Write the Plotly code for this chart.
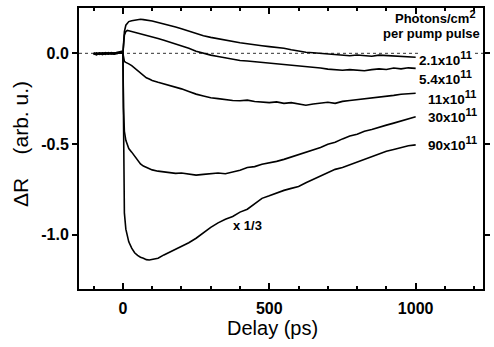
import plotly.graph_objects as go

# shared delay axis (ps)
delay = [-100, -90, -80, -70, -60, -50, -40, -30, -20, -10, -3,
         0, 2, 5, 10, 15, 20, 30, 40, 50, 60, 70, 80, 90, 100,
         120, 140, 160, 180, 200,
         225, 250, 275, 300, 325, 350, 375, 400,
         425, 450, 475, 500, 525, 550, 575, 600,
         625, 650, 675, 700, 725, 750, 775, 800,
         825, 850, 875, 900, 925, 950, 975, 1000]

dr_2p1 = [0.0, -0.005, 0.003, -0.004, 0.002, -0.003, 0.004, 0.0, 0.005, 0.01, 0.012,
          0.0, 0.07, 0.12, 0.155, 0.168, 0.175, 0.18, 0.184, 0.186, 0.188, 0.186, 0.184, 0.182, 0.178,
          0.17, 0.163, 0.155, 0.145, 0.135,
          0.122, 0.108, 0.097, 0.088, 0.08, 0.072, 0.066, 0.058,
          0.053, 0.046, 0.042, 0.037, 0.034, 0.028, 0.02, 0.012,
          0.006, 0.003, -0.001, -0.004, -0.008, -0.01, -0.013, -0.009,
          -0.012, -0.016, -0.01, -0.013, -0.016, -0.019, -0.018, -0.022]

dr_5p4 = [-0.004, 0.002, -0.006, 0.003, -0.002, 0.004, -0.003, 0.002, 0.004, 0.006, 0.008,
          0.0, 0.06, 0.1, 0.12, 0.126, 0.124, 0.12, 0.116, 0.112, 0.11, 0.104, 0.1, 0.094, 0.09,
          0.082, 0.072, 0.062, 0.052, 0.042,
          0.028, 0.012, 0.0, -0.01, -0.018, -0.025, -0.033, -0.04,
          -0.042, -0.046, -0.048, -0.052, -0.055, -0.058, -0.062, -0.066,
          -0.07, -0.075, -0.081, -0.087, -0.09, -0.093, -0.09, -0.094,
          -0.096, -0.09, -0.086, -0.089, -0.081, -0.086, -0.08, -0.083]

dr_11 = [0.003, -0.006, 0.0, -0.005, 0.004, -0.002, 0.0, -0.004, 0.002, 0.004, 0.006,
         0.0, -0.03, -0.045, -0.05, -0.052, -0.058, -0.068, -0.082, -0.098, -0.112, -0.122, -0.135, -0.142, -0.15,
         -0.16, -0.168, -0.178, -0.186, -0.196,
         -0.21, -0.225, -0.235, -0.245, -0.25, -0.256, -0.26, -0.262,
         -0.258, -0.266, -0.27, -0.272, -0.268, -0.276, -0.272, -0.28,
         -0.286, -0.28, -0.275, -0.27, -0.276, -0.265, -0.26, -0.256,
         -0.25, -0.246, -0.244, -0.236, -0.232, -0.226, -0.224, -0.22]

dr_30 = [-0.006, 0.0, -0.004, 0.002, -0.006, 0.001, -0.003, 0.003, -0.002, 0.005, 0.004,
         0.0, -0.3, -0.43, -0.48, -0.51, -0.525, -0.545, -0.568, -0.59, -0.61, -0.622, -0.63, -0.638, -0.643,
         -0.65, -0.653, -0.66, -0.662, -0.66,
         -0.665, -0.672, -0.668, -0.664, -0.66, -0.664, -0.655, -0.645,
         -0.63, -0.625, -0.612, -0.605, -0.596, -0.585, -0.572, -0.56,
         -0.548, -0.535, -0.52, -0.502, -0.49, -0.472, -0.456, -0.446,
         -0.43, -0.42, -0.406, -0.396, -0.385, -0.372, -0.36, -0.35]

dr_90 = [-0.002, -0.008, 0.002, -0.007, 0.0, -0.005, 0.002, -0.004, 0.0, 0.003, 0.002,
         0.0, -0.6, -0.88, -0.97, -1.01, -1.04, -1.075, -1.1, -1.115, -1.125, -1.13, -1.138, -1.14, -1.136,
         -1.13, -1.112, -1.097, -1.082, -1.066,
         -1.045, -1.02, -0.988, -0.96, -0.935, -0.915, -0.9, -0.876,
         -0.86, -0.832, -0.8, -0.786, -0.77, -0.756, -0.745, -0.735,
         -0.714, -0.695, -0.676, -0.656, -0.64, -0.63, -0.615, -0.6,
         -0.585, -0.57, -0.552, -0.54, -0.53, -0.52, -0.51, -0.505]

series = [dr_2p1, dr_5p4, dr_11, dr_30, dr_90]
label_base = ["2.1x10", "5.4x10", "11x10", "30x10", "90x10"]
label_exp = ["11", "11", "11", "11", "11"]
label_x = [1007, 1007, 1037, 1037, 1037]
label_y = [-0.027, -0.132, -0.242, -0.341, -0.495]

x_ticks = [0, 500, 1000]
y_ticks = [-1.0, -0.5, 0.0]
y_ticktext = ["-1.0", "-0.5", "0.0"]

FONT = "Liberation Sans, Arial, Helvetica, sans-serif"

fig = go.Figure()
for s in series:
    fig.add_trace(go.Scatter(x=delay, y=s, mode="lines",
                             line=dict(color="black", width=1.6),
                             showlegend=False, hoverinfo="skip"))

fig.add_shape(type="line", xref="paper", x0=0, x1=1, yref="y", y0=0, y1=0,
              line=dict(color="#333333", width=1, dash="3px,3px"), layer="below")

ann = []
for b, e, lx, ly in zip(label_base, label_exp, label_x, label_y):
    txt = b + '<sup><span style="font-size:11px">' + e + '</span></sup>'
    ann.append(dict(x=lx, y=ly, xref="x", yref="y", text=txt, showarrow=False,
                    xanchor="left", yanchor="middle", bgcolor="white", borderpad=0,
                    font=dict(family=FONT, size=13.5, color="black", weight="bold")))
ann.append(dict(x=1067, y=0.198, xref="x", yref="y",
                text='Photons/cm<sup><span style="font-size:11px">2</span></sup>',
                showarrow=False, xanchor="center", yanchor="middle",
                font=dict(family=FONT, size=13, color="black", weight="bold")))
ann.append(dict(x=1053, y=0.11, xref="x", yref="y", text="per pump pulse",
                showarrow=False, xanchor="center", yanchor="middle",
                font=dict(family=FONT, size=13, color="black", weight="bold")))
ann.append(dict(x=426, y=-0.95, xref="x", yref="y", text="x 1/3",
                showarrow=False, xanchor="center", yanchor="middle",
                font=dict(family=FONT, size=13, color="black", weight="bold")))
ann.append(dict(x=0.479, y=-0.139, xref="paper", yref="paper", text="Delay (ps)",
                showarrow=False, xanchor="center", yanchor="middle",
                font=dict(family=FONT, size=20, color="black")))
ann.append(dict(x=-0.146, y=0.516, xref="paper", yref="paper",
                text="\u0394R\u00a0\u00a0\u00a0\u00a0(arb. u.)", textangle=-90,
                showarrow=False, xanchor="center", yanchor="middle",
                font=dict(family=FONT, size=21, color="black")))

fig.update_layout(
    width=494, height=347,
    margin=dict(l=79, r=4, t=8, b=58),
    paper_bgcolor="white", plot_bgcolor="white",
    annotations=ann,
    xaxis=dict(range=[-150, 1230], tickvals=x_ticks, ticks="inside", ticklen=6, tickwidth=1.5,
               tickcolor="black", showline=True, linewidth=2, linecolor="black", mirror="ticks",
               showgrid=False, zeroline=False, ticklabelstandoff=4,
               minor=dict(dtick=100, tick0=0, ticks="inside", ticklen=3, tickwidth=1.5,
                          tickcolor="black", showgrid=False),
               tickfont=dict(family=FONT, size=16, color="black", weight="bold")),
    yaxis=dict(range=[-1.3, 0.25], tickvals=y_ticks, ticktext=y_ticktext, ticks="outside",
               ticklen=5, tickwidth=1.5, tickcolor="black", showline=True, linewidth=2,
               linecolor="black", mirror="ticks", showgrid=False, zeroline=False,
               tickfont=dict(family=FONT, size=16, color="black", weight="bold")),
)

fig.write_html("out.html")
